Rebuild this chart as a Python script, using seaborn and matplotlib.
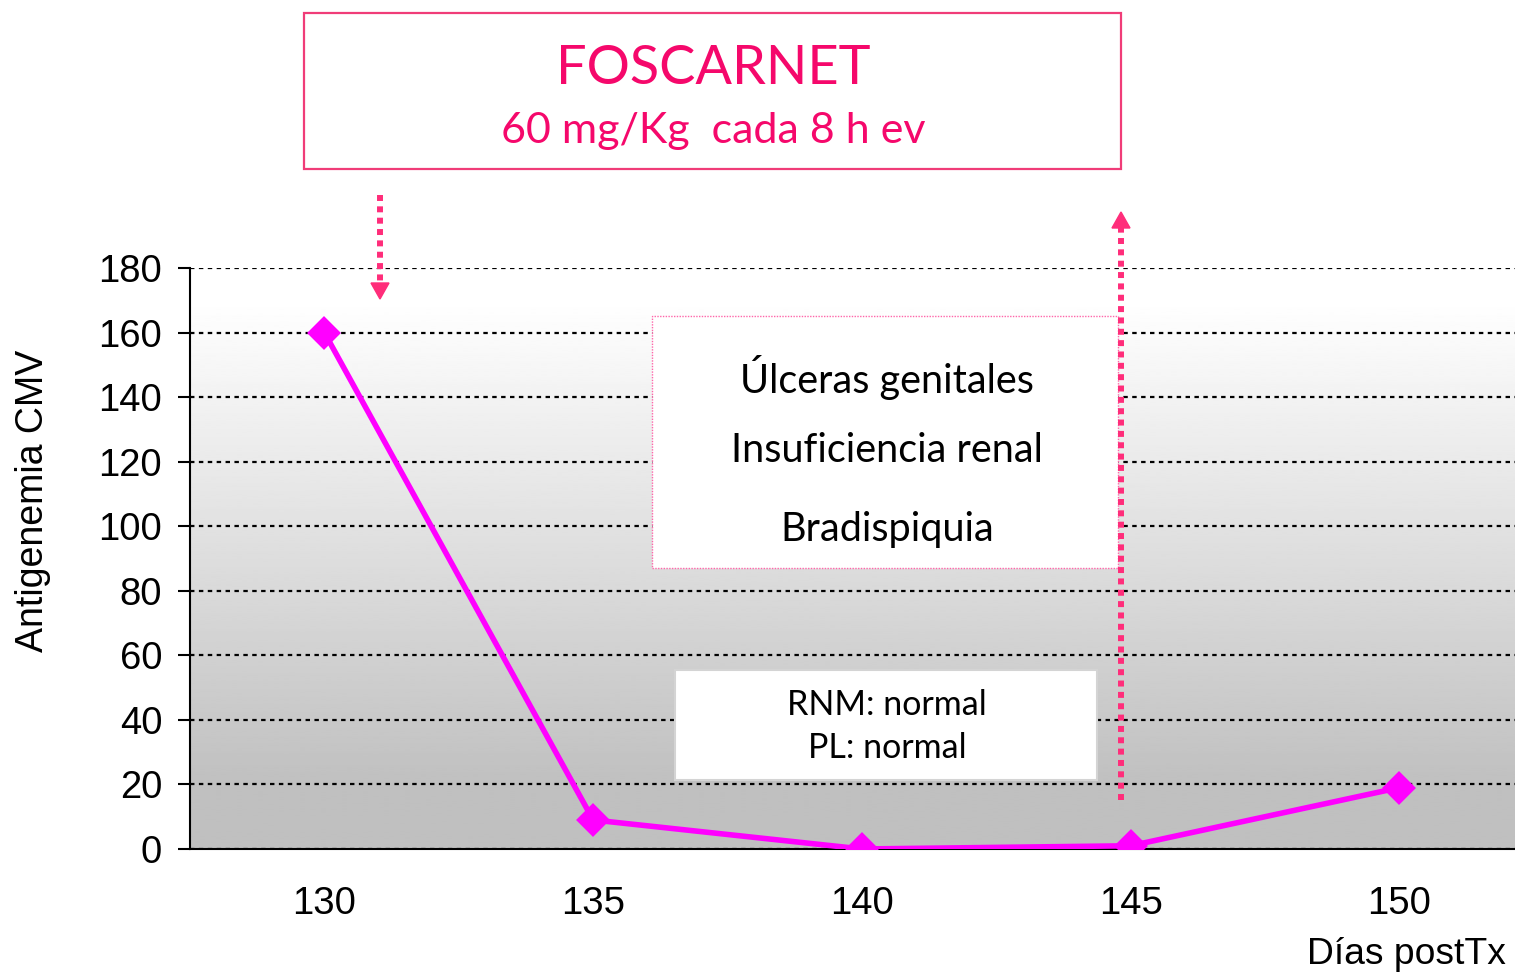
import numpy as np
import seaborn as sns
import matplotlib.pyplot as plt
from matplotlib.lines import Line2D
from matplotlib.patches import Rectangle, Polygon
from matplotlib.ticker import FixedLocator

sns.set_style('white')
plt.rcParams['font.family'] = ['Liberation Sans', 'DejaVu Sans']
plt.rcParams['text.color'] = 'black'
plt.rcParams['xtick.color'] = 'black'
plt.rcParams['ytick.color'] = 'black'

# data
days = ['130', '135', '140', '145', '150']
antigenemia = [160, 9, 0, 1, 19]
y_ticks = list(range(0, 181, 20))
effects = ['Úlceras genitales', 'Insuficiencia renal', 'Bradispiquia']
tests = ['RNM: normal', 'PL: normal']

W, H = 1515, 975
PINK = '#FF2D7A'
TEXT_PINK = '#F5086B'
AXFONT = ['Liberation Sans', 'DejaVu Sans']


def fx(px):
    return px / W


def fy(py):
    return 1 - py / H


fig = plt.figure(figsize=(W / 100, H / 100), dpi=100)
ax = fig.add_axes([190 / W, 1 - 849 / H, 1343.75 / W, 581 / H])

# grey gradient background (white at top -> light grey at bottom)
yy = np.linspace(180, 0, 300)
shade = 1 - np.clip((170 - yy) / 150, 0, 1) * (1 - 0.753)
ax.imshow(shade[:, None], cmap='gray', vmin=0, vmax=1, aspect='auto',
          extent=[-0.5, 4.5, 0, 180], zorder=0, interpolation='bilinear')

sns.pointplot(x=days, y=antigenemia, color='#FF00FF', markers='D',
              markersize=14, linewidth=4, errorbar=None, ax=ax, zorder=5)

ax.set_xlim(-0.5, 4.5)
ax.set_ylim(0, 180)
ax.set_yticks(y_ticks)
ax.xaxis.set_minor_locator(FixedLocator(np.arange(-0.5, 5, 1)))
ax.tick_params(axis='x', which='major', length=0, pad=27, labelsize=27.5, labelcolor='black')
ax.tick_params(axis='x', which='minor', length=8, width=1.5, direction='out', color='black')
ax.tick_params(axis='y', length=9, width=1.5, pad=11, labelsize=27.5, direction='out',
               color='black', labelcolor='black', left=True)
for lab in ax.get_xticklabels() + ax.get_yticklabels():
    lab.set_family(AXFONT)
ax.grid(False)
ax.grid(axis='y', color='black', linestyle=(0, (2, 2)), linewidth=1.6)
ax.set_xlabel('')
ax.set_ylabel('')
for s in ['top', 'right']:
    ax.spines[s].set_visible(False)
for s in ['left', 'bottom']:
    ax.spines[s].set_color('black')
    ax.spines[s].set_linewidth(1.5)

fig.text(fx(33), fy(501), 'Antigenemia CMV', rotation=90, ha='center', va='center',
         fontsize=27, family=AXFONT, color='black')
fig.text(fx(1406), fy(955), 'Días postTx', ha='center', va='center', fontsize=26.8,
         family=AXFONT, color='black')

# FOSCARNET box
fig.add_artist(Rectangle((fx(304), fy(169)), (1121 - 304) / W, (169 - 13) / H,
                         transform=fig.transFigure, fill=False, edgecolor='#F03C78', lw=1.6))
fig.text(fx(713), fy(68), 'FOSCARNET', ha='center', va='center', color=TEXT_PINK,
         fontsize=39, family='Lato')
fig.text(fx(713), fy(131), '60 mg/Kg  cada 8 h ev', ha='center', va='center', color=TEXT_PINK,
         fontsize=31, family='Lato')

# side effects box
fig.add_artist(Rectangle((fx(652), fy(568)), (1118 - 652) / W, (568 - 316) / H,
                         transform=fig.transFigure, facecolor='white', edgecolor='#FF66AA',
                         lw=1, linestyle=(0, (1, 1)), zorder=2))
for label, py in zip(effects, [377, 451, 529]):
    fig.text(fx(887), fy(py), label, ha='center', va='center', fontsize=28.5,
             family='Lato', color='black', zorder=3)

# tests box
fig.add_artist(Rectangle((fx(675), fy(780)), (1097 - 675) / W, (780 - 670) / H,
                         transform=fig.transFigure, facecolor='white', edgecolor='#d4d4d4',
                         lw=1.5, zorder=2))
for label, py in zip(tests, [705, 748]):
    fig.text(fx(887), fy(py), label, ha='center', va='center', fontsize=24.5,
             family='Lato', color='black', zorder=3)


# dotted arrows
def dotted_arrow(x, y0, y1, tip):
    fig.add_artist(Line2D([fx(x), fx(x)], [fy(y0), fy(y1)], transform=fig.transFigure,
                          color=PINK, lw=4.3, linestyle=(0, (1, 0.9)),
                          dash_capstyle='butt', zorder=4))
    fig.add_artist(Polygon([(fx(x - 9), fy(y1)), (fx(x + 9), fy(y1)), (fx(x), fy(tip))],
                           closed=True, transform=fig.transFigure, color=PINK, zorder=4))


dotted_arrow(380, 195, 283, 299)
dotted_arrow(1121, 800, 228, 212)

fig.savefig('out.png', dpi=100)
